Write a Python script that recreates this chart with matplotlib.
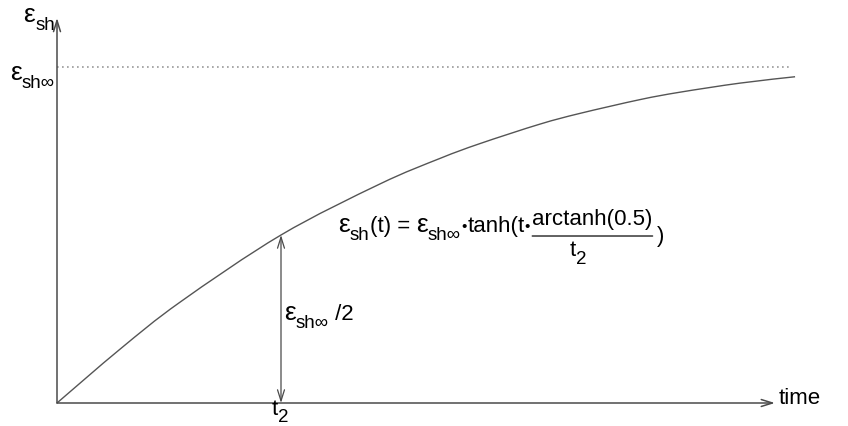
import matplotlib
matplotlib.use("Agg")
import numpy as np
import matplotlib.pyplot as plt
from matplotlib.path import Path
from matplotlib.patches import PathPatch
from matplotlib.transforms import ScaledTranslation

# shrinkage curve, time in units of t2, strain in units of eps_sh_inf
t_vals = [0.0, 0.281, 0.549, 1.0, 1.442, 1.710, 1.888, 2.156, 2.335, 2.603, 2.781, 3.049, 3.295]
eps_vals = [0.0, 0.160, 0.300, 0.5, 0.652, 0.728, 0.772, 0.830, 0.862, 0.903, 0.925, 0.952, 0.971]
eps_inf = 1.0
t2 = 1.0
asymptote_end = 3.27
x_axis_end = 3.205
y_axis_end = 1.146

plt.rcParams['font.family'] = ['Liberation Sans', 'DejaVu Sans']

AX_COL = '#4a4a4a'
CURVE_COL = '#555555'
FS = 16
EPS_FS = 19   # the epsilon glyph runs a bit larger
SUB = 13.5
DROP = 5.5    # subscript drop, points

fig = plt.figure(figsize=(8.48, 4.26), dpi=100)
ax = fig.add_axes([0, 0, 1, 1])
ax.axis('off')
# 224 px per t2, 336 px per eps_inf, origin at (57, 403) px
ax.set_xlim(-57 / 224, (848 - 57) / 224)
ax.set_ylim(-(426 - 403) / 336, 403 / 336)


def smooth_path(xs, ys):
    # Catmull-Rom through the points, as cubic Bezier segments
    pts = np.column_stack([xs, ys])
    n = len(pts)
    verts = [pts[0]]
    codes = [Path.MOVETO]
    for i in range(n - 1):
        p0 = pts[max(i - 1, 0)]
        p1 = pts[i]
        p2 = pts[i + 1]
        p3 = pts[min(i + 2, n - 1)]
        verts += [p1 + (p2 - p0) / 6, p2 - (p3 - p1) / 6, p2]
        codes += [Path.CURVE4] * 3
    return Path(verts, codes)


def after(prev, text, y, size=FS, dx=0.0, dy=0.0):
    # place text right after the previous one, baseline at data y (+dy points)
    return ax.annotate(text, xy=(1, y), xycoords=(prev, 'data'),
                       xytext=(dx, dy), textcoords='offset points',
                       fontsize=size, ha='left', va='baseline')


def label_right(x, y, sub):
    # right-aligned epsilon with subscript; y is the epsilon baseline
    drop = ScaledTranslation(0, -DROP / 72, fig.dpi_scale_trans)
    s = ax.text(x, y, sub, fontsize=SUB, ha='right', va='baseline',
                transform=ax.transData + drop)
    ax.annotate('ε', xy=(0, y), xycoords=(s, 'data'), fontsize=EPS_FS,
                ha='right', va='baseline')


arrow = dict(arrowstyle='->,head_length=0.8,head_width=0.25', color=AX_COL,
             lw=1.1, shrinkA=0, shrinkB=0, mutation_scale=10)
ax.annotate('', xy=(x_axis_end, 0), xytext=(0, 0), arrowprops=arrow)
ax.annotate('', xy=(0, y_axis_end), xytext=(0, 0), arrowprops=arrow)

ax.plot([0, asymptote_end], [eps_inf, eps_inf], ls=(0, (1, 2)), color='#999999', lw=1.2)
ax.add_patch(PathPatch(smooth_path(t_vals, eps_vals), fc='none', ec=CURVE_COL, lw=1.0))

ax.annotate('', xy=(t2, eps_inf / 2), xytext=(t2, 0),
            arrowprops=dict(arrow, arrowstyle='<->,head_length=0.8,head_width=0.25', lw=0.9))

# axis labels
label_right(-0.009, 1.134, 'sh')
label_right(-0.009, 0.961, 'sh∞')
ax.text(3.223, -0.003, 'time', fontsize=FS, ha='left', va='baseline')
tt = ax.text(t2 - 0.04, -0.035, 't', fontsize=FS, ha='left', va='baseline')
after(tt, '2', -0.035, SUB, dy=-DROP)

# half-value marker
e = ax.text(t2 + 0.013, 0.247, 'ε', fontsize=EPS_FS, ha='left', va='baseline')
s = after(e, 'sh∞', 0.247, SUB, dy=-DROP)
after(s, ' /2', 0.247)

# formula
yb = 0.509
bar_y = 0.497
f = ax.text(1.2545, yb, 'ε', fontsize=EPS_FS, ha='left', va='baseline')
f = after(f, 'sh', yb, SUB, dy=-DROP)
f = after(f, '(t) = ', yb)
f = after(f, 'ε', yb, EPS_FS)
f = after(f, 'sh∞', yb, SUB, dy=-DROP)
f = after(f, '•', yb, 11, dx=0.5, dy=0.5)
f = after(f, 'tanh(t', yb, dx=0.5)
f = after(f, '•', yb, 11, dy=0.5)
num = after(f, 'arctanh(0.5)', 0.530, dx=1.5)
ax.annotate('', xy=(1, bar_y), xycoords=(num, 'data'),
            xytext=(0, bar_y), textcoords=(num, 'data'),
            arrowprops=dict(arrowstyle='-', color='#222222', lw=1.0, shrinkA=0, shrinkB=0))
den = ax.annotate('t', xy=(0.31, 0.4375), xycoords=(num, 'data'),
                  fontsize=FS, ha='left', va='baseline')
after(den, '2', 0.4375, SUB, dy=-DROP)
ax.annotate(')', xy=(1, bar_y), xycoords=(num, 'data'), xytext=(3, 0),
            textcoords='offset points', fontsize=FS, ha='left', va='center')

fig.savefig('out.png', dpi=100)
